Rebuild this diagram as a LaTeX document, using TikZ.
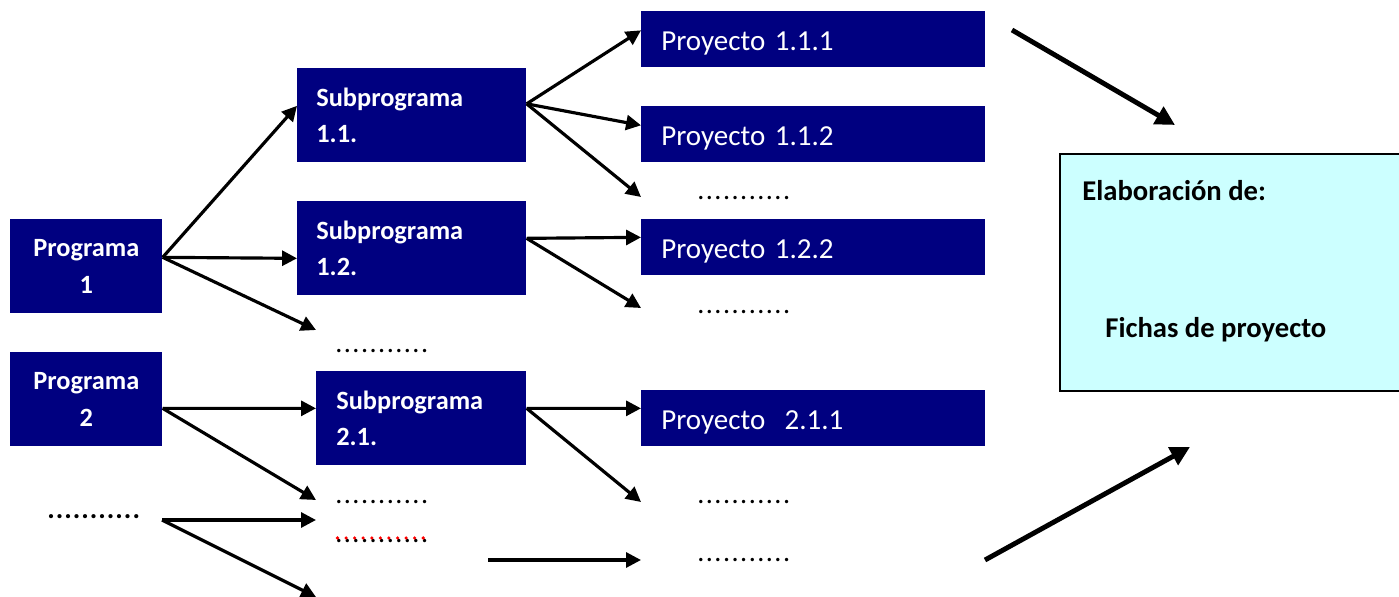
\documentclass[tikz,border=0pt]{standalone}
\usepackage{fontspec}
\setmainfont{Carlito}
\usetikzlibrary{arrows.meta}
\definecolor{navyblue}{RGB}{0,0,128}
\definecolor{paleaqua}{RGB}{204,255,255}
\newcommand{\lowered}[1]{\raisebox{-2.3pt}[\height][\depth]{#1}}
\begin{document}
\begin{tikzpicture}[x=0.02cm,y=-0.02cm,
  prog/.style={fill=navyblue, anchor=north west, inner sep=0pt, minimum width=3.04cm, minimum height=1.88cm,
    text=white, align=center, font=\bfseries\fontsize{15}{21}\selectfont},
  subp/.style={fill=navyblue, anchor=north west, inner xsep=0.38cm, inner ysep=0pt, minimum height=1.88cm,
    text width=3.82cm, text=white, align=left, font=\bfseries\fontsize{15}{21}\selectfont},
  proy/.style={fill=navyblue, anchor=north west, inner xsep=0.4cm, inner ysep=0pt, minimum height=1.12cm,
    text width=6.08cm, text=white, align=left, font=\fontsize{16.5}{20}\selectfont},
  dots/.style={anchor=base west, inner sep=0pt, font=\addfontfeature{LetterSpace=5.3}\fontsize{16}{20}\selectfont},
  bdots/.style={anchor=base west, inner sep=0pt, font=\bfseries\addfontfeature{LetterSpace=3.6}\fontsize{16}{20}\selectfont},
  lbl/.style={anchor=base west, inner sep=0pt, font=\bfseries\fontsize{16.3}{20}\selectfont},
  arr/.style={-{Triangle[length=8.5pt,width=8.5pt]}, line width=1.8pt},
  bigarr/.style={-{Triangle[length=11pt,width=11pt]}, line width=2.8pt}
]
\useasboundingbox (0,0) rectangle (1399,597);

% programas
\node[prog] (p1) at (10,219) {Programa\\1};
\node[prog] (p2) at (10,352) {Programa\\2};
\node[bdots] (pd) at (47,519) {...........};

% subprogramas
\node[subp] (s11) at (297,68) {Subprograma\\1.1.};
\node[subp] (s12) at (297,201) {Subprograma\\1.2.};
\node[dots] (sd1) at (335,353) {...........};
\node[subp, inner xsep=0.4cm, text width=3.4cm] (s21) at (316,371) {Subprograma\\2.1.};
\node[dots] (sd2) at (335,503) {...........};
\node[dots] (sd3) at (335,542) {...........};
\draw[red, line width=2pt, line cap=round, dash pattern=on 0pt off 4.88pt] (337.5,538) -- (425,538);

% proyectos
\node[proy] (pr111) at (641,11) {\lowered{Proyecto 1.1.1}};
\node[proy] (pr112) at (641,106) {\lowered{Proyecto 1.1.2}};
\node[dots] (pd1) at (697,200) {...........};
\node[proy] (pr122) at (641,219) {\lowered{Proyecto 1.2.2}};
\node[dots] (pd2) at (697,314) {...........};
\node[proy] (pr211) at (641,390) {\lowered{Proyecto\ \ 2.1.1}};
\node[dots] (pd3) at (697,503) {...........};
\node[dots] (pd4) at (697,561) {...........};

% fichas
\node[draw=black, line width=1.2pt, fill=paleaqua, anchor=north west, inner sep=0pt,
  minimum width=6.9cm, minimum height=4.74cm] (fb) at (1059,153) {};
\node[lbl] (fl1) at (1082,201) {Elaboración de:};
\node[lbl] (fl2) at (1105,338) {Fichas de proyecto};

% arrow ends
\coordinate (ea) at (316,330);
\coordinate (eb) at (316,500);
\coordinate (ec) at (316,520);
\coordinate (ed) at (316,597);
\coordinate (ee) at (641,197);
\coordinate (ef) at (641,308);
\coordinate (eg) at (641,502);
\coordinate (eh) at (488,560);
\coordinate (ei) at (641,560);
\coordinate (ej) at (162,520);
\coordinate (t1) at (1012,30);
\coordinate (t2) at (1175,125);
\coordinate (t3) at (985,560);
\coordinate (t4) at (1190,447);

% programa 1
\draw[arr] ([yshift=0.18cm]p1.east) -- ([yshift=0.19cm]s11.west);
\draw[arr] ([yshift=0.18cm]p1.east) -- ([yshift=-0.2cm]s12.west);
\draw[arr] ([yshift=0.18cm]p1.east) -- (ea);
% programa 2
\draw[arr] ([yshift=-0.18cm]p2.east) -- ([yshift=0.2cm]s21.west);
\draw[arr] ([yshift=-0.18cm]p2.east) -- (eb);
% dots
\draw[arr] (ej) -- (ec);
\draw[arr] (ej) -- (ed);
% subprograma 1.1
\draw[arr] ([yshift=0.23cm]s11.east) -- ([yshift=0.18cm]pr111.west);
\draw[arr] ([yshift=0.23cm]s11.east) -- ([yshift=0.18cm]pr112.west);
\draw[arr] ([yshift=0.23cm]s11.east) -- (ee);
% subprograma 1.2
\draw[arr] ([yshift=0.2cm]s12.east) -- ([yshift=0.2cm]pr122.west);
\draw[arr] ([yshift=0.2cm]s12.east) -- (ef);
% subprograma 2.1
\draw[arr] ([yshift=0.2cm]s21.east) -- ([yshift=0.2cm]pr211.west);
\draw[arr] ([yshift=0.2cm]s21.east) -- (eg);
% bottom
\draw[arr] (eh) -- (ei);
% to fichas
\draw[bigarr] (t1) -- (t2);
\draw[bigarr] (t3) -- (t4);
\end{tikzpicture}
\end{document}
